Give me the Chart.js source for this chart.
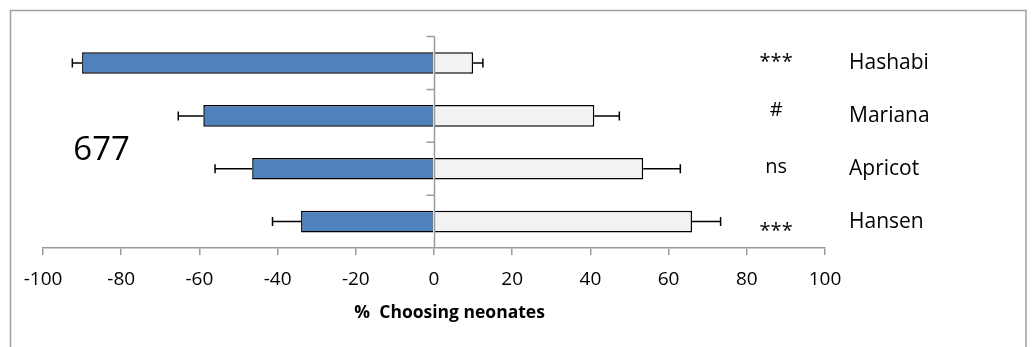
<!DOCTYPE html>
<html>
<head>
<meta charset="utf-8">
<script src="https://cdn.jsdelivr.net/npm/chart.js@4/dist/chart.umd.min.js"></script>
<style>
  html, body { margin: 0; padding: 0; background: #fff; }
  canvas { display: block; }
</style>
</head>
<body>
<canvas id="c" width="1032" height="347"></canvas>
<script>
// Cultivars, top to bottom
const categories = ['Hashabi', 'Mariana', 'Apricot', 'Hansen'];
// Share choosing the other side (negative) and share choosing neonates (positive), %
const otherSide = [-90, -59, -46.5, -34];
const neonates = [10, 41, 53.5, 66];
// Standard error for each cultivar, %
const stdErr = [2.5, 6.4, 9.5, 7.3];
// Significance marks next to each cultivar
const signif = ['***', '#', 'ns', '***'];
// X axis ticks
const xTicks = [-100, -80, -60, -40, -20, 0, 20, 40, 60, 80, 100];
const xTitle = '%  Choosing neonates';
const panelLabel = '677';

const FONT = "'Open Sans', 'Noto Sans', sans-serif";
const AXIS_GREY = '#9a9a9a';

// Outer frame of the chart object
const framePlugin = {
  id: 'frame',
  beforeDraw(chart) {
    const ctx = chart.ctx;
    ctx.save();
    ctx.strokeStyle = '#a0a0a0';
    ctx.lineWidth = 1.5;
    ctx.strokeRect(10.5, 10.5, chart.width - 16.5, chart.height + 20);
    ctx.restore();
  }
};

// Zero axis with category tick marks, and error bars on the outer end of each bar
const barExtras = {
  id: 'barExtras',
  afterDatasetsDraw(chart) {
    const ctx = chart.ctx;
    const xs = chart.scales.x, ys = chart.scales.y;
    const area = chart.chartArea;
    ctx.save();

    // error bars
    ctx.strokeStyle = '#000';
    ctx.lineWidth = 1.5;
    const cap = 4.5;
    [otherSide, neonates].forEach((vals, di) => {
      const meta = chart.getDatasetMeta(di);
      vals.forEach((v, i) => {
        const y = meta.data[i].y;
        const x0 = xs.getPixelForValue(v);
        const x1 = xs.getPixelForValue(v + (v < 0 ? -stdErr[i] : stdErr[i]));
        ctx.beginPath();
        ctx.moveTo(x0, y); ctx.lineTo(x1, y);
        ctx.moveTo(x1, y - cap); ctx.lineTo(x1, y + cap);
        ctx.stroke();
      });
    });

    // vertical axis at zero
    const x0 = Math.round(xs.getPixelForValue(0)) + 0.5;
    ctx.strokeStyle = AXIS_GREY;
    ctx.lineWidth = 1.5;
    ctx.beginPath();
    ctx.moveTo(x0, area.top);
    ctx.lineTo(x0, area.bottom);
    const n = categories.length;
    for (let k = 0; k < n; k++) {
      const yb = ys.getPixelForValue(k - 0.5);
      ctx.moveTo(x0 - 8, yb);
      ctx.lineTo(x0, yb);
    }
    ctx.stroke();
    ctx.restore();
  }
};

// Axis title, significance marks and the panel label
const notes = {
  id: 'notes',
  afterDraw(chart) {
    const ctx = chart.ctx;
    const xs = chart.scales.x, ys = chart.scales.y;
    const area = chart.chartArea;
    const yOffsets = [-0.5, -6, -1, 9.5];
    ctx.save();
    ctx.fillStyle = '#000';
    ctx.textAlign = 'center';
    ctx.textBaseline = 'middle';

    ctx.font = 'bold 17.5px ' + FONT;
    ctx.fillText(xTitle, xs.getPixelForValue(4), area.bottom + 65);

    ctx.font = '20px ' + FONT;
    signif.forEach((s, i) => {
      const x = xs.getPixelForValue(87.5);
      const y = ys.getPixelForValue(i) + yOffsets[i];
      ctx.fillText(s, x, y);
    });
    ctx.font = '33px ' + FONT;
    ctx.fillText(panelLabel, xs.getPixelForValue(-85), (ys.getPixelForValue(1) + ys.getPixelForValue(2)) / 2 + 8);
    ctx.restore();
  }
};

new Chart(document.getElementById('c'), {
  type: 'bar',
  data: {
    labels: categories,
    datasets: [
      {
        data: otherSide,
        backgroundColor: '#4F81BD',
        borderColor: '#000',
        borderWidth: 1.5,
        borderSkipped: 'start'
      },
      {
        data: neonates,
        backgroundColor: '#F2F2F2',
        borderColor: '#000',
        borderWidth: 1.5,
        borderSkipped: 'start'
      }
    ]
  },
  options: {
    indexAxis: 'y',
    responsive: false,
    animation: false,
    devicePixelRatio: 1,
    datasets: { bar: { barPercentage: 0.41, categoryPercentage: 1 } },
    layout: { padding: { left: 43, right: 0, top: 35, bottom: 0 } },
    plugins: { legend: { display: false }, tooltip: { enabled: false } },
    scales: {
      x: {
        stacked: true,
        min: -100,
        max: 100,
        afterBuildTicks(axis) { axis.ticks = xTicks.map(v => ({ value: v })); },
        afterFit(axis) { axis.height = 99; },
        ticks: { color: '#000', font: { family: FONT, size: 19 }, padding: 13, maxRotation: 0 },
        grid: { drawOnChartArea: false, drawTicks: true, tickLength: 7, color: AXIS_GREY, lineWidth: 1.5 },
        border: { color: AXIS_GREY, width: 1.5 }
      },
      y: {
        stacked: true,
        position: 'right',
        afterFit(axis) { axis.width = 207; },
        grid: { display: false, drawTicks: false },
        border: { display: false },
        ticks: { color: '#000', font: { family: FONT, size: 21 }, padding: 24, crossAlign: 'near' }
      }
    }
  },
  plugins: [framePlugin, barExtras, notes]
});
</script>
</body>
</html>
